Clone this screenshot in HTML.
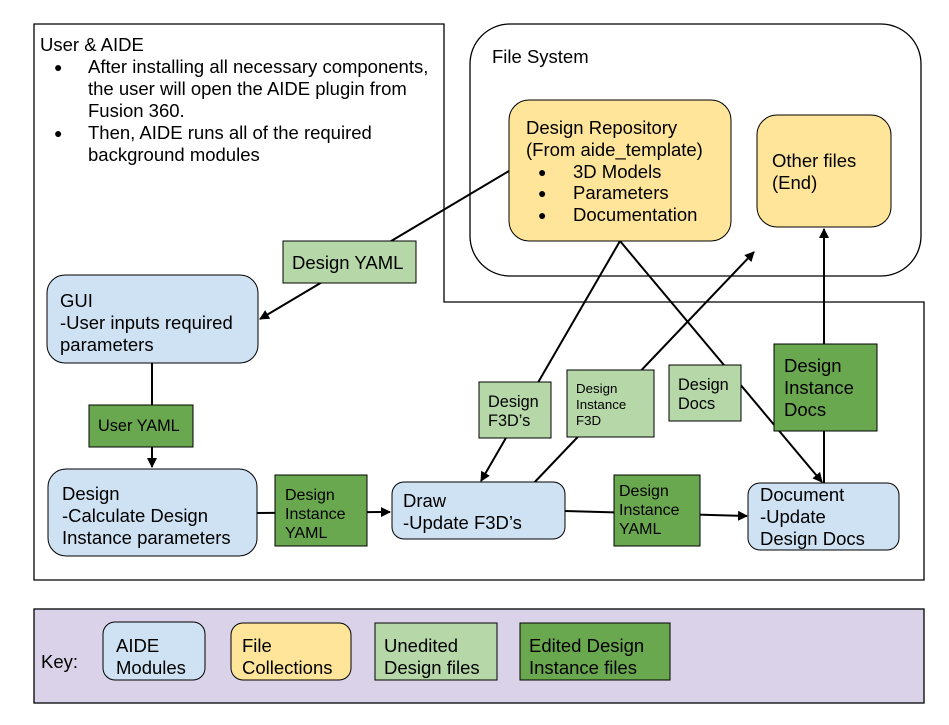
<!DOCTYPE html>
<html><head><meta charset="utf-8"><style>
html,body{margin:0;padding:0;background:#fff;}
svg{display:block;}
text{font-family:"Liberation Sans",Arial,sans-serif;fill:#000;}
</style></head><body>
<svg width="949" height="725" viewBox="0 0 949 725" xmlns="http://www.w3.org/2000/svg">
<defs>
<marker id="a" markerWidth="10" markerHeight="10" refX="9" refY="5" orient="auto" markerUnits="userSpaceOnUse">
<path d="M0,0 L10,5 L0,10 z" fill="#000"/>
</marker>
</defs>
<rect width="949" height="725" fill="#fff"/>
<path d="M34,24 H444 V302 H924 V580 H34 Z" fill="#fff" stroke="#000" stroke-width="1.3"/>
<rect x="470" y="24" width="451" height="252" rx="40" fill="#fff" stroke="#000" stroke-width="1.3"/>
<g font-size="18.5">
<text x="40" y="51">User &amp; AIDE</text>
<text x="54" y="72" font-size="14">●</text><text x="88" y="73">After installing all necessary components,</text>
<text x="88" y="95">the user will open the AIDE plugin from</text>
<text x="88" y="117">Fusion 360.</text>
<text x="54" y="138" font-size="14">●</text><text x="88" y="139">Then, AIDE runs all of the required</text>
<text x="88" y="161">background modules</text>
<text x="492" y="63">File System</text>
</g>
<g stroke="#000" stroke-width="2" fill="none">
<line x1="509" y1="171" x2="260" y2="319" marker-end="url(#a)"/>
<line x1="152" y1="363" x2="152" y2="467" marker-end="url(#a)"/>
<line x1="257" y1="513" x2="390" y2="512" marker-end="url(#a)"/>
<line x1="565" y1="511" x2="747" y2="516" marker-end="url(#a)"/>
<line x1="620" y1="241" x2="481" y2="481" marker-end="url(#a)"/>
<line x1="620" y1="241" x2="822" y2="482" marker-end="url(#a)"/>
<line x1="531" y1="486" x2="754" y2="252" marker-end="url(#a)"/>
<line x1="824" y1="483" x2="824" y2="229" marker-end="url(#a)"/>
</g>
<rect x="509" y="100" width="222" height="141" rx="20" fill="#ffe599" stroke="#000" stroke-width="1"/>
<g font-size="18.5">
<text x="526" y="134">Design Repository</text>
<text x="526" y="156">(From aide_template)</text>
<text x="538" y="177" font-size="14">●</text><text x="573" y="178">3D Models</text>
<text x="538" y="198" font-size="14">●</text><text x="573" y="199">Parameters</text>
<text x="538" y="220" font-size="14">●</text><text x="573" y="221">Documentation</text>
</g>
<rect x="757" y="115" width="134" height="112" rx="20" fill="#ffe599" stroke="#000" stroke-width="1"/>
<text x="772" y="167" font-size="18.5">Other files</text>
<text x="772" y="189" font-size="18.5">(End)</text>
<rect x="47" y="275" width="211" height="88" rx="18" fill="#cfe2f3" stroke="#000" stroke-width="1"/>
<text x="60" y="307" font-size="18.5">GUI</text>
<text x="60" y="329" font-size="18.5">-User inputs required</text>
<text x="60" y="351" font-size="18.5">parameters</text>
<rect x="48" y="469" width="209" height="87" rx="18" fill="#cfe2f3" stroke="#000" stroke-width="1"/>
<text x="62" y="500" font-size="18.5">Design</text>
<text x="62" y="522" font-size="18.5">-Calculate Design</text>
<text x="62" y="544" font-size="18.5">Instance parameters</text>
<rect x="392" y="482" width="173" height="57" rx="12" fill="#cfe2f3" stroke="#000" stroke-width="1"/>
<text x="403" y="507" font-size="18.5">Draw</text>
<text x="403" y="529" font-size="18.5">-Update F3D’s</text>
<rect x="748" y="483" width="151" height="67" rx="12" fill="#cfe2f3" stroke="#000" stroke-width="1"/>
<text x="760" y="501" font-size="18.5">Document</text>
<text x="760" y="523" font-size="18.5">-Update</text>
<text x="760" y="545" font-size="18.5">Design Docs</text>
<rect x="283" y="241" width="133" height="42" fill="#b6d7a8" stroke="#000" stroke-width="1"/>
<text x="292" y="269" font-size="18.5">Design YAML</text>
<rect x="89" y="405" width="104" height="42" fill="#6aa84f" stroke="#000" stroke-width="1"/>
<text x="98" y="431" font-size="16.3">User YAML</text>
<rect x="275" y="475" width="92" height="71" fill="#6aa84f" stroke="#000" stroke-width="1"/>
<text x="285" y="500" font-size="16">Design</text>
<text x="285" y="519" font-size="16">Instance</text>
<text x="285" y="538" font-size="16">YAML</text>
<rect x="614" y="475" width="86" height="71" fill="#6aa84f" stroke="#000" stroke-width="1"/>
<text x="619" y="496" font-size="16">Design</text>
<text x="619" y="515" font-size="16">Instance</text>
<text x="619" y="534" font-size="16">YAML</text>
<rect x="479" y="382" width="72" height="56" fill="#b6d7a8" stroke="#000" stroke-width="1"/>
<text x="488" y="407" font-size="16.3">Design</text>
<text x="488" y="426" font-size="16.3">F3D’s</text>
<rect x="567" y="370" width="87" height="67" fill="#b6d7a8" stroke="#000" stroke-width="1"/>
<text x="576" y="393" font-size="13.3">Design</text>
<text x="576" y="409" font-size="13.3">Instance</text>
<text x="576" y="425" font-size="13.3">F3D</text>
<rect x="669" y="365" width="72" height="56" fill="#b6d7a8" stroke="#000" stroke-width="1"/>
<text x="678" y="390" font-size="16.3">Design</text>
<text x="678" y="409" font-size="16.3">Docs</text>
<rect x="774" y="344" width="103" height="87" fill="#6aa84f" stroke="#000" stroke-width="1"/>
<text x="784" y="372" font-size="18.5">Design</text>
<text x="784" y="394" font-size="18.5">Instance</text>
<text x="784" y="416" font-size="18.5">Docs</text>
<rect x="34" y="609" width="890" height="94" fill="#d9d2e9" stroke="#000" stroke-width="1.3"/>
<text x="41" y="668" font-size="18.5">Key:</text>
<rect x="103" y="622" width="102" height="58" rx="12" fill="#cfe2f3" stroke="#000" stroke-width="1"/>
<text x="116" y="652" font-size="18.5">AIDE</text><text x="116" y="674" font-size="18.5">Modules</text>
<rect x="231" y="623" width="120" height="57" rx="12" fill="#ffe599" stroke="#000" stroke-width="1"/>
<text x="242" y="652" font-size="18.5">File</text><text x="242" y="674" font-size="18.5">Collections</text>
<rect x="375" y="623" width="122" height="57" fill="#b6d7a8" stroke="#000" stroke-width="1"/>
<text x="384" y="652" font-size="18.5">Unedited</text><text x="384" y="674" font-size="18.5">Design files</text>
<rect x="520" y="623" width="150" height="57" fill="#6aa84f" stroke="#000" stroke-width="1"/>
<text x="529" y="652" font-size="18.5">Edited Design</text><text x="529" y="674" font-size="18.5">Instance files</text>
</svg>
</body></html>
